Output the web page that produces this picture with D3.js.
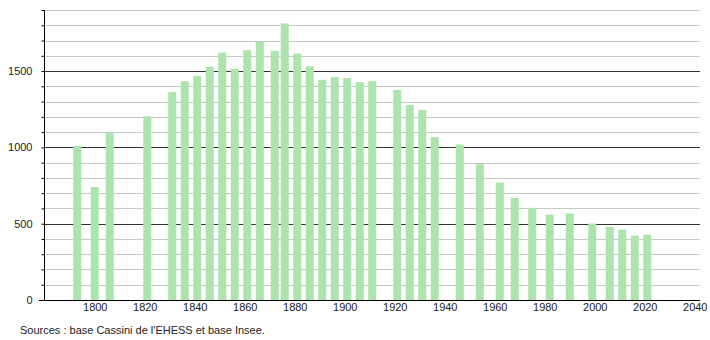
<!DOCTYPE html>
<html>
<head>
<meta charset="utf-8">
<script src="https://cdn.jsdelivr.net/npm/d3@7"></script>
<style>
  body { margin: 0; background: #fff; }
  svg { display: block; font-family: "Liberation Sans", Arial, sans-serif; }
</style>
</head>
<body>
<div id="chart"></div>
<script>
// census years and population
var years = [1793, 1800, 1806, 1821, 1831, 1836, 1841, 1846, 1851, 1856,
  1861, 1866, 1872, 1876, 1881, 1886, 1891, 1896, 1901, 1906, 1911,
  1921, 1926, 1931, 1936, 1946, 1954, 1962, 1968, 1975, 1982, 1990,
  1999, 2006, 2011, 2016, 2021];
var population = [1010, 740, 1098, 1203, 1362, 1432, 1467, 1528, 1621, 1515,
  1636, 1691, 1632, 1812, 1614, 1531, 1443, 1460, 1454, 1427, 1434,
  1377, 1278, 1245, 1067, 1019, 891, 769, 670, 604, 560, 567,
  501, 479, 461, 422, 428];
var yTicks = [0, 500, 1000, 1500];
var xTicks = [1800, 1820, 1840, 1860, 1880, 1900, 1920, 1940, 1960, 1980, 2000, 2020, 2040];
var source = "Sources : base Cassini de l'EHESS et base Insee.";

function ready() {
  var W = 710, H = 340;
  var mLeft = 44, mRight = 700, mTop = 10, mBottom = 300;

  var svg = d3.select('#chart').append('svg')
    .attr('width', W).attr('height', H);

  var x = d3.scaleLinear().domain([1779.7, 2042.1]).range([mLeft, mRight]);
  var y = d3.scaleLinear().domain([0, 1900]).range([mBottom, mTop]);

  // grid every 100, darker every 500
  var grid = d3.range(100, 1901, 100);
  svg.append('g').selectAll('line')
    .data(grid).join('line')
    .attr('x1', mLeft).attr('x2', mRight)
    .attr('y1', function(d) { return Math.round(y(d)) + 0.5; })
    .attr('y2', function(d) { return Math.round(y(d)) + 0.5; })
    .attr('stroke', function(d) { return d % 500 == 0 ? '#333' : '#c8c8c8'; })
    .attr('stroke-width', 1);

  // bars
  svg.append('g').selectAll('rect')
    .data(years).join('rect')
    .attr('x', function(d) { return x(d) - 4; })
    .attr('width', 8)
    .attr('y', function(d, i) { return y(population[i]); })
    .attr('height', function(d, i) { return mBottom - y(population[i]); })
    .attr('fill', '#ade3ad');

  // y axis
  var yAxis = d3.axisLeft(y).tickValues(d3.range(0, 1901, 100))
    .tickSize(3)
    .tickFormat(function(d) { return yTicks.indexOf(d) >= 0 ? d : ''; });
  var gy = svg.append('g')
    .attr('transform', 'translate(' + (mLeft + 0.5) + ',0)')
    .call(yAxis);
  gy.select('.domain').attr('stroke', '#000').attr('d', 'M0,' + mTop + 'V' + mBottom);
  gy.selectAll('.tick line').attr('stroke', '#000');
  gy.selectAll('.tick text')
    .attr('x', -12)
    .style('font-size', '11px').attr('fill', '#222')
    .style('font-family', '"Liberation Sans", Arial, sans-serif');

  // x axis
  var xAxis = d3.axisBottom(x).tickValues(xTicks).tickSize(0).tickFormat(d3.format('d'));
  var gx = svg.append('g')
    .attr('transform', 'translate(0,' + (mBottom + 0.5) + ')')
    .call(xAxis);
  gx.select('.domain').attr('stroke', '#000').attr('d', 'M39,0H' + mRight);
  gx.selectAll('.tick text')
    .attr('y', 3)
    .style('font-size', '11px').attr('fill', '#222')
    .style('font-family', '"Liberation Sans", Arial, sans-serif');

  svg.append('text')
    .attr('x', 20).attr('y', 334)
    .style('font-size', '11px').attr('fill', '#222')
    .text(source);
}

ready();
</script>
</body>
</html>
